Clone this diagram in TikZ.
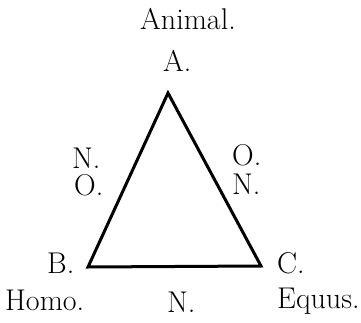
\documentclass[tikz,border=0pt]{standalone}
\usepackage{fontspec}
\usepackage{tikz}
\usetikzlibrary{positioning}

\begin{document}
\begin{tikzpicture}[
  x=1pt, y=-1pt,
  lbl/.style={inner sep=0pt, anchor=base west, font=\fontsize{30}{32}\selectfont},
  side/.style={line width=3pt, line join=miter},
]
\useasboundingbox (0,0) rectangle (361,323);
\coordinate (A) at (168,93);
\coordinate (B) at (88,267);
\coordinate (C) at (261,266);
\draw[side] (A) -- (B) -- (C) -- cycle;
\node[lbl] (animal) at (140,30) {Animal.};
\node[lbl] (la) at (163,72) {A.};
\node[lbl] (abN) at (72,168) {N.};
\node[lbl] (abO) at (74,195) {O.};
\node[lbl] (acO) at (232,166) {O.};
\node[lbl] (acN) at (232,194) {N.};
\node[lbl] (lb) at (47,273) {B.};
\node[lbl] (homo) at (5,310) {Homo.};
\node[lbl] (bcN) at (167,312) {N.};
\node[lbl] (lc) at (277,273) {C.};
\node[lbl] (equus) at (277,308) {Equus.};
\end{tikzpicture}
\end{document}
